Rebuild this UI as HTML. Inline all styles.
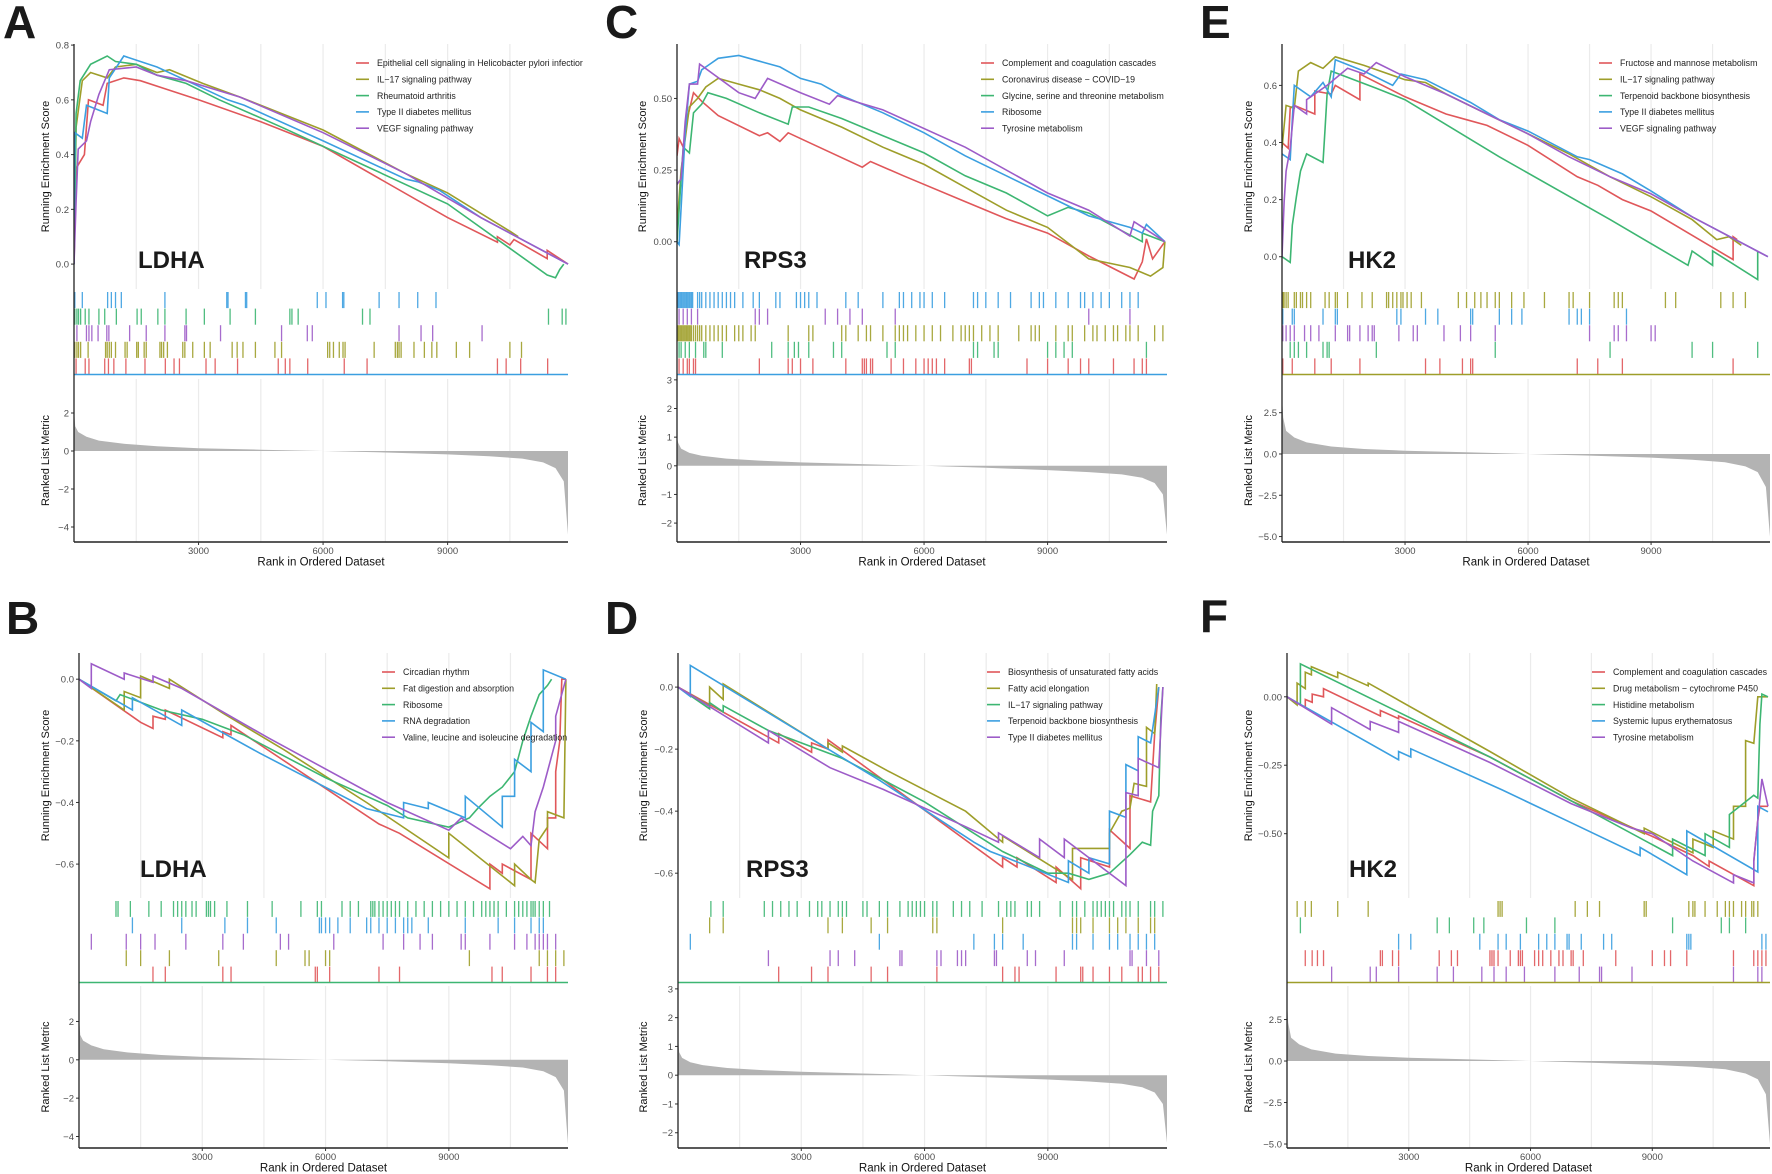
<!DOCTYPE html>
<html><head><meta charset="utf-8"><style>
html,body{margin:0;padding:0;background:#fff;}
svg{display:block;font-family:"Liberation Sans",Arial,sans-serif;}
</style></head><body>
<svg id="fig" width="1772" height="1174" viewBox="0 0 1772 1174" xmlns="http://www.w3.org/2000/svg"></svg>
<script>
// ===== DATA (ranks in thousands, values = running enrichment score) =====
// Panel A (LDHA, positive)
const A_red=[[0,0],[0.05,0.35],[0.25,0.40],[0.35,0.6],[0.7,0.58],[0.8,0.66],[1.2,0.68],[1.6,0.67],[2.2,0.64],[3.0,0.60],[4.5,0.52],[6,0.43],[9,0.17],[10.2,0.08],[10.2,0.1],[10.5,0.07],[10.6,0.09],[11.4,0.02],[11.4,0.05],[11.9,0]];
const A_olive=[[0,0],[0.05,0.5],[0.2,0.67],[0.4,0.70],[0.8,0.68],[1,0.72],[1.5,0.73],[2,0.7],[2.3,0.71],[3.1,0.66],[4,0.61],[6,0.49],[8,0.33],[9,0.26],[10.5,0.12],[10.7,0.1]];
const A_green=[[0,0],[0.05,0.55],[0.15,0.67],[0.4,0.73],[0.8,0.76],[1.0,0.74],[1.5,0.73],[2.0,0.69],[2.7,0.66],[3.5,0.6],[5,0.5],[7,0.36],[9,0.22],[11.4,-0.04],[11.6,-0.05],[11.7,-0.02],[11.8,0.0]];
const A_blue=[[0,0],[0.02,0.48],[0.2,0.46],[0.3,0.58],[0.8,0.55],[0.85,0.68],[1.2,0.76],[2,0.72],[3,0.65],[3.7,0.6],[4.1,0.58],[6,0.45],[8,0.31],[8.3,0.3],[8.8,0.27],[9.8,0.17],[11.9,0.0]];
const A_purple=[[0,0],[0.05,0.23],[0.1,0.42],[0.3,0.45],[0.4,0.52],[0.6,0.62],[0.85,0.71],[1.5,0.72],[2,0.69],[2.7,0.67],[4,0.61],[6,0.48],[8,0.33],[9.8,0.17],[11.9,0.0]];
const A_rug_blue=[0.02,0.2,0.81,0.9,1.0,1.14,2.19,3.68,3.71,4.13,4.16,5.86,6.07,6.47,6.5,7.35,7.83,8.28,8.72];
const A_rug_green=[0.02,0.07,0.11,0.16,0.27,0.36,0.6,0.74,1.02,1.52,1.62,2.02,2.19,2.7,3.14,3.76,4.37,5.2,5.25,5.4,6.95,7.13,11.43,11.76,11.85];
const A_rug_purple=[0.07,0.3,0.36,0.43,0.58,0.79,0.84,1.34,1.74,2.19,2.67,2.71,3.53,5.0,5.62,5.74,7.83,8.36,8.64,9.83];
const A_rug_olive=[0.02,0.07,0.11,0.16,0.34,0.76,0.8,0.85,0.9,1.0,1.23,1.28,1.51,1.55,1.69,1.74,2.07,2.11,2.16,2.25,2.62,2.67,2.86,3.14,3.28,3.81,3.93,4.07,4.37,4.84,5.0,6.11,6.16,6.25,6.39,6.48,6.53,7.23,7.74,7.79,7.83,7.88,8.19,8.44,8.62,8.74,9.21,9.53,10.5,10.78];
const A_rug_red=[0.05,0.27,0.36,0.74,0.83,0.96,1.25,1.71,2.2,2.41,2.54,3.18,3.4,3.94,4.92,5.09,5.2,5.63,6.51,7.06,10.2,10.41,10.76,11.41];
const A_metric=[2.2,1.3,1.0,0.75,0.55,0.38,0.25,0.15,0.07,0,-0.08,-0.18,-0.28,-0.4,-0.6,-0.9,-1.6,-4.4];

// Panel C (RPS3, positive)
const C_red=[[0,0.3],[0.05,0.36],[0.15,0.33],[0.25,0.43],[0.4,0.52],[0.6,0.49],[1,0.44],[2,0.37],[2.2,0.38],[2.5,0.35],[2.7,0.38],[3.3,0.34],[4.5,0.26],[4.7,0.28],[5.5,0.23],[7,0.14],[8,0.08],[9,0.03],[10,-0.05],[11.1,-0.13],[11.3,-0.07],[11.4,0.01],[11.55,-0.06],[11.85,0.0]];
const C_olive=[[0,0.05],[0.1,0.25],[0.3,0.47],[0.5,0.5],[0.7,0.54],[1,0.57],[1.5,0.55],[2,0.53],[2.5,0.5],[3,0.46],[4,0.4],[5,0.33],[6,0.27],[7,0.19],[8,0.11],[9,0.05],[10,-0.06],[11,-0.09],[11.5,-0.12],[11.8,-0.09],[11.85,0]];
const C_green=[[0,0.0],[0.15,0.33],[0.3,0.31],[0.4,0.45],[0.6,0.48],[0.75,0.52],[1.2,0.5],[2,0.45],[2.7,0.41],[2.8,0.47],[3.2,0.47],[4,0.43],[5,0.37],[6,0.31],[7,0.23],[8,0.17],[9,0.09],[9.5,0.12],[10,0.1],[11.3,0.0],[11.3,0.03],[11.85,0.0]];
const C_blue=[[0,0.0],[0.05,-0.01],[0.2,0.38],[0.3,0.55],[0.5,0.56],[0.6,0.6],[0.8,0.62],[1,0.64],[1.5,0.65],[2,0.63],[2.5,0.61],[3,0.57],[3.5,0.55],[4,0.51],[5,0.45],[6,0.38],[7,0.30],[8,0.23],[9,0.16],[10,0.09],[11,0.05],[11.3,0.03],[11.4,0.06],[11.85,0.0]];
const C_purple=[[0,0.2],[0.1,0.22],[0.2,0.42],[0.3,0.55],[0.5,0.55],[0.55,0.62],[1.5,0.52],[1.9,0.5],[2.2,0.57],[3,0.52],[3.7,0.48],[3.9,0.51],[4.3,0.49],[5,0.46],[7,0.33],[9,0.17],[10,0.11],[11,0.02],[11.1,0.07],[11.85,0.0]];
const C_rug_blue=[0.02,0.05,0.08,0.11,0.14,0.17,0.2,0.23,0.26,0.29,0.32,0.35,0.38,0.5,0.55,0.6,0.7,0.8,0.9,1.0,1.1,1.2,1.3,1.4,1.6,1.85,2.0,2.4,2.5,2.9,3.0,3.1,3.2,3.4,4.1,4.4,5.0,5.4,5.5,5.7,5.9,6.0,6.2,6.5,7.2,7.3,7.5,7.8,8.1,8.6,8.8,8.9,9.2,9.5,9.8,9.9,10.1,10.3,10.5,10.8,11.0,11.2];
const C_rug_purple=[0.05,0.15,0.25,0.35,0.5,1.9,2.0,2.2,3.6,3.9,4.2,4.5,5.3,10.0,11.0];
const C_rug_olive=[0.02,0.05,0.08,0.11,0.14,0.17,0.2,0.23,0.26,0.29,0.32,0.35,0.4,0.45,0.5,0.55,0.6,0.7,0.8,0.9,1.0,1.1,1.2,1.4,1.5,1.6,1.8,1.9,2.7,3.2,3.3,4.0,4.1,4.4,4.6,4.7,5.0,5.3,5.4,5.5,5.6,5.8,6.0,6.2,6.4,6.7,6.9,7.0,7.1,7.2,7.4,7.6,7.8,8.3,8.6,8.7,8.8,9.2,9.5,9.6,9.9,10.1,10.2,10.4,10.6,10.7,10.9,11.0,11.2,11.6,11.8];
const C_rug_green=[0.05,0.1,0.2,0.3,0.45,0.65,0.7,1.1,2.3,2.7,2.85,2.95,3.2,3.8,4.0,5.1,5.3,7.2,7.3,7.7,7.8,9.0,9.2,9.4,9.6,11.4];
const C_rug_red=[0.05,0.15,0.25,0.3,0.4,0.45,2.0,2.7,2.8,3.0,3.3,4.1,4.5,4.55,4.6,4.7,4.75,5.2,5.5,5.8,6.0,6.1,6.2,6.3,6.5,7.1,7.15,8.5,9.0,9.5,9.8,10.0,10.6,11.1,11.3,11.4];
const C_metric=[1.0,0.8,0.6,0.45,0.35,0.25,0.18,0.12,0.06,0,-0.07,-0.15,-0.22,-0.3,-0.42,-0.6,-1.0,-2.4];

// Panel E (HK2, positive)
const E_red=[[0,0.4],[0.15,0.38],[0.2,0.52],[0.3,0.53],[0.8,0.5],[0.8,0.58],[1.2,0.57],[1.3,0.6],[1.9,0.55],[1.9,0.64],[3,0.56],[4,0.5],[4.5,0.48],[5,0.46],[6,0.39],[7.2,0.28],[7.7,0.25],[8.3,0.2],[9,0.16],[11,-0.01],[11,0.07],[11.1,0.06]];
const E_olive=[[0,0.38],[0.1,0.53],[0.3,0.52],[0.4,0.65],[0.7,0.68],[1,0.66],[1.3,0.7],[2,0.67],[3,0.62],[3.5,0.61],[4,0.57],[5,0.5],[6,0.43],[7,0.36],[8,0.28],[9,0.21],[10,0.13],[10.6,0.06],[10.9,0.07],[11.2,0.04]];
const E_green=[[0,0],[0.2,-0.02],[0.25,0.11],[0.35,0.21],[0.45,0.3],[0.6,0.36],[1.0,0.33],[1.05,0.45],[1.1,0.57],[1.2,0.65],[2.3,0.59],[3,0.55],[5.3,0.35],[8,0.13],[9.9,-0.03],[10,0.02],[10.5,-0.03],[10.5,0.02],[11.6,-0.08],[11.6,0.02]];
const E_blue=[[0,0.36],[0.2,0.34],[0.25,0.48],[0.3,0.6],[0.7,0.56],[1.0,0.61],[1.2,0.56],[1.3,0.69],[2,0.65],[2.7,0.6],[2.9,0.64],[3.5,0.62],[4.6,0.54],[5.3,0.48],[6,0.44],[7.2,0.35],[7.5,0.34],[8.3,0.29],[9,0.23],[10,0.14],[11.85,0.0]];
const E_purple=[[0,0.0],[0.05,0.19],[0.1,0.3],[0.2,0.38],[0.3,0.53],[0.6,0.5],[0.6,0.55],[1.1,0.6],[1.6,0.66],[2,0.64],[2.3,0.68],[3,0.63],[4,0.57],[5,0.5],[6,0.43],[7,0.35],[8,0.28],[9,0.22],[10,0.14],[11.85,0.0]];
const E_rug_olive=[0.02,0.05,0.1,0.15,0.3,0.35,0.45,0.5,0.6,0.7,1.05,1.15,1.3,1.35,1.6,1.95,2.2,2.55,2.6,2.7,2.8,2.9,2.95,3.05,3.15,3.4,4.3,4.5,4.7,4.85,5.0,5.2,5.3,5.6,5.9,6.4,7.0,7.1,7.5,8.1,8.2,8.3,9.35,9.6,10.7,11.0,11.3];
const E_rug_blue=[0.02,0.25,0.3,1.0,1.3,1.35,2.8,2.9,3.5,3.8,4.6,4.65,5.3,5.6,5.85,7.0,7.2,7.3,7.5,8.4];
const E_rug_purple=[0.02,0.1,0.2,0.3,0.55,0.7,0.9,1.3,1.6,1.65,1.9,2.1,2.2,2.25,2.85,3.2,3.3,3.95,4.35,4.6,5.2,7.5,8.1,8.2,8.4,9.0,9.1];
const E_rug_green=[0.2,0.3,0.4,0.6,1.0,1.1,1.15,2.3,5.2,8.0,10.0,10.5,11.6];
const E_rug_red=[0.02,0.25,0.8,1.2,1.9,3.5,3.85,4.4,4.6,4.65,7.2,7.7,8.3,11.0];
const E_metric=[3.5,2.2,1.4,1.0,0.7,0.45,0.3,0.2,0.1,0,-0.1,-0.22,-0.35,-0.5,-0.75,-1.1,-2.0,-5.0];

// Panel B (LDHA, negative)
const B_red=[[0,0],[1.5,-0.14],[1.8,-0.16],[1.8,-0.12],[2.1,-0.13],[2.1,-0.1],[3.5,-0.19],[3.5,-0.17],[3.7,-0.18],[3.7,-0.15],[7.3,-0.47],[7.8,-0.5],[10,-0.68],[10,-0.6],[10.3,-0.63],[10.3,-0.6],[11,-0.65],[11,-0.5],[11.4,-0.55],[11.4,-0.45],[11.6,-0.45],[11.6,-0.3],[11.7,-0.2],[11.75,0.0],[11.85,0.0]];
const B_olive=[[0,0],[1.1,-0.1],[1.1,-0.04],[1.5,-0.06],[1.5,0.01],[2.2,-0.03],[2.2,0.0],[3.5,-0.11],[5,-0.23],[7,-0.4],[9,-0.58],[9,-0.5],[10.6,-0.67],[10.6,-0.6],[11,-0.65],[11.1,-0.66],[11.2,-0.52],[11.4,-0.48],[11.4,-0.43],[11.8,-0.45],[11.85,0.0]];
const B_green=[[0,0],[0.9,-0.07],[1,-0.05],[2,-0.1],[3,-0.13],[4,-0.18],[6,-0.32],[7.5,-0.41],[8,-0.45],[9,-0.48],[9.5,-0.45],[9.7,-0.42],[10,-0.38],[10.3,-0.35],[10.6,-0.3],[10.8,-0.2],[11,-0.12],[11.2,-0.05],[11.4,-0.02],[11.5,0.0]];
const B_blue=[[0,0],[1.3,-0.1],[1.3,-0.06],[2.5,-0.15],[2.5,-0.1],[4.4,-0.24],[7,-0.42],[7.9,-0.45],[7.9,-0.4],[8.5,-0.42],[8.5,-0.4],[9.4,-0.45],[9.4,-0.38],[10.3,-0.48],[10.3,-0.38],[10.6,-0.38],[10.6,-0.26],[11.0,-0.3],[11.0,-0.14],[11.3,-0.17],[11.3,0.03],[11.85,0.0]];
const B_purple=[[0,0],[0.3,-0.03],[0.3,0.05],[1.1,0.0],[1.1,0.02],[1.8,-0.01],[1.8,0.01],[2.5,-0.03],[4.6,-0.19],[7.5,-0.4],[9,-0.49],[9.3,-0.45],[10.5,-0.55],[10.8,-0.51],[11.0,-0.54],[11.1,-0.43],[11.3,-0.35],[11.6,-0.2],[11.6,-0.12],[11.85,0.0]];
const B_rug_green=[0.9,0.95,1.25,1.7,2.0,2.3,2.4,2.5,2.6,2.75,2.85,3.1,3.15,3.2,3.3,3.6,4.1,4.7,5.4,5.8,5.9,6.4,6.6,6.8,7.1,7.15,7.2,7.3,7.4,7.5,7.6,7.7,7.8,8.0,8.2,8.4,8.6,8.8,9.0,9.2,9.4,9.6,9.8,9.9,10.0,10.1,10.2,10.4,10.6,10.7,10.8,10.9,11.0,11.05,11.1,11.2,11.3,11.45];
const B_rug_blue=[1.3,2.5,3.55,4.1,4.8,5.85,5.9,6.0,6.1,6.3,6.6,7.0,7.1,7.3,7.5,7.7,7.9,8.0,8.1,8.5,9.4,10.2,10.6,11.0,11.2,11.3];
const B_rug_purple=[0.3,1.15,1.5,1.85,2.6,3.5,4.0,4.9,5.1,6.2,7.4,7.9,8.3,8.6,9.3,9.4,10.0,10.6,10.9,11.1,11.2,11.3,11.4,11.6];
const B_rug_olive=[1.15,1.5,2.2,3.4,4.8,5.5,5.6,6.0,6.1,9.5,11.2,11.4,11.6,11.8];
const B_rug_red=[1.8,2.1,3.5,3.7,5.75,5.8,6.1,7.3,7.8,10.05,10.3,11.0,11.4,11.6];
const B_metric=[2.3,1.3,1.0,0.75,0.55,0.38,0.25,0.15,0.07,0,-0.08,-0.18,-0.28,-0.4,-0.6,-0.9,-1.6,-4.4];

// Panel D (RPS3, negative)
const D_red=[[0,0],[2.45,-0.18],[2.45,-0.15],[3.25,-0.21],[3.25,-0.18],[3.65,-0.2],[3.65,-0.17],[7.9,-0.58],[7.9,-0.55],[8.25,-0.58],[8.25,-0.55],[9.2,-0.63],[9.2,-0.58],[9.8,-0.65],[9.8,-0.55],[10.5,-0.58],[10.5,-0.46],[11.0,-0.52],[11.0,-0.35],[11.5,-0.37],[11.6,-0.15],[11.7,0.0]];
const D_olive=[[0,0],[0.77,-0.06],[0.77,0.0],[1.1,-0.04],[1.1,0.01],[3.65,-0.2],[3.65,-0.18],[4.0,-0.21],[4.0,-0.19],[5.1,-0.27],[7,-0.4],[7.9,-0.5],[7.9,-0.48],[9.6,-0.62],[9.6,-0.52],[10.5,-0.52],[10.5,-0.47],[10.8,-0.4],[11.0,-0.39],[11.1,-0.31],[11.4,-0.32],[11.4,-0.13],[11.6,-0.15],[11.65,0.01]];
const D_green=[[0,0],[0.77,-0.07],[0.77,-0.05],[1.1,-0.08],[1.1,-0.06],[2.2,-0.14],[4,-0.23],[6,-0.37],[7.9,-0.53],[9,-0.6],[9.5,-0.6],[10,-0.62],[10.5,-0.6],[11,-0.54],[11.3,-0.5],[11.5,-0.51],[11.55,-0.4],[11.7,-0.35],[11.75,-0.1],[11.8,0.0]];
const D_blue=[[0,0],[0.3,-0.03],[0.3,0.07],[4.9,-0.3],[7.2,-0.5],[7.6,-0.53],[8.0,-0.55],[9.5,-0.63],[9.5,-0.56],[10,-0.6],[10,-0.55],[10.5,-0.57],[10.5,-0.4],[10.9,-0.42],[10.9,-0.25],[11.2,-0.27],[11.2,-0.16],[11.5,-0.18],[11.7,0.0]];
const D_purple=[[0,0],[2.2,-0.18],[2.2,-0.14],[3.7,-0.26],[5.0,-0.33],[7,-0.45],[7.8,-0.5],[7.8,-0.47],[8.8,-0.55],[8.8,-0.49],[9.4,-0.55],[9.4,-0.49],[10.9,-0.64],[10.9,-0.34],[11.2,-0.35],[11.2,-0.23],[11.7,-0.26],[11.8,0.0]];
const D_rug_green=[0.8,1.1,2.1,2.3,2.5,2.7,2.9,3.2,3.4,3.5,3.7,3.9,4.0,4.1,4.5,4.6,4.9,5.1,5.4,5.6,5.7,5.8,5.9,6.0,6.2,6.3,6.7,6.9,7.1,7.4,7.8,8.0,8.1,8.2,8.5,8.6,8.8,9.3,9.6,9.7,9.9,10.1,10.2,10.3,10.4,10.5,10.6,10.8,10.9,11.0,11.2,11.5,11.6,11.8];
const D_rug_olive=[0.77,1.1,3.65,4.0,4.7,5.1,6.2,6.3,7.9,9.6,9.7,9.8,10.1,10.5,10.7,10.9,11.2,11.5,11.6];
const D_rug_blue=[0.3,4.9,7.2,7.7,7.9,8.4,9.6,9.7,10.1,10.5,10.7,11.0,11.2,11.4,11.6];
const D_rug_purple=[2.2,3.7,3.9,4.3,5.4,5.45,6.3,6.4,6.8,6.9,7.0,7.7,7.75,8.5,8.7,9.4,11.0,11.05,11.4,11.7];
const D_rug_red=[2.45,3.25,3.65,4.7,5.1,6.3,7.9,8.2,8.3,9.2,9.8,9.85,10.1,10.5,10.8,11.2,11.3,11.5,11.7];
const D_metric=[1.3,0.8,0.6,0.45,0.35,0.25,0.18,0.12,0.06,0,-0.07,-0.15,-0.22,-0.3,-0.42,-0.6,-1.0,-2.35];

// Panel F (HK2, negative)
const F_red=[[0,0],[0.45,-0.04],[0.45,-0.01],[0.62,-0.02],[0.62,0.01],[0.9,0.0],[0.9,0.03],[2.3,-0.07],[2.3,-0.05],[2.75,-0.08],[2.75,-0.07],[5,-0.22],[7,-0.38],[9,-0.51],[10,-0.58],[10.4,-0.62],[10.4,-0.6],[11.5,-0.69],[11.5,-0.6],[11.6,-0.45],[11.65,-0.4],[11.85,-0.4]];
const F_olive=[[0,0],[0.25,-0.03],[0.25,0.05],[0.45,0.03],[0.45,0.09],[0.6,0.08],[0.6,0.11],[1.25,0.07],[1.25,0.09],[2.0,0.04],[2.0,0.05],[5,-0.2],[7,-0.37],[8.8,-0.5],[8.8,-0.48],[10,-0.57],[10,-0.52],[10.5,-0.55],[10.5,-0.49],[11,-0.52],[11,-0.4],[11.3,-0.4],[11.3,-0.16],[11.5,-0.17],[11.6,0.0],[11.85,0.0]];
const F_green=[[0,0],[0.33,-0.03],[0.33,0.12],[5,-0.22],[7,-0.38],[9.5,-0.58],[9.5,-0.52],[10.3,-0.58],[10.3,-0.5],[10.9,-0.55],[10.9,-0.43],[11.5,-0.36],[11.6,-0.37],[11.65,-0.1],[11.7,0.01],[11.85,0.0]];
const F_blue=[[0,0],[2.75,-0.23],[2.75,-0.2],[3.05,-0.22],[3.05,-0.19],[5.3,-0.34],[7,-0.46],[8.7,-0.58],[8.7,-0.55],[9.85,-0.65],[9.85,-0.49],[11.6,-0.64],[11.6,-0.4],[11.85,-0.42]];
const F_purple=[[0,0],[1.1,-0.1],[1.1,-0.04],[2.05,-0.12],[2.05,-0.09],[2.75,-0.13],[2.75,-0.09],[5,-0.24],[7,-0.39],[8.5,-0.48],[9,-0.5],[10,-0.6],[11,-0.68],[11,-0.65],[11.5,-0.68],[11.5,-0.6],[11.7,-0.3],[11.85,-0.4]];
const F_rug_olive=[0.25,0.45,0.6,1.25,2.0,5.2,5.25,5.3,7.1,7.4,7.7,8.8,8.85,9.9,10.0,10.05,10.3,10.6,10.8,10.9,11.0,11.2,11.3,11.45,11.5,11.6];
const F_rug_green=[0.33,3.7,4.0,4.6,4.85,5.9,6.6,9.5,10.7,10.9,11.3];
const F_rug_blue=[2.75,3.05,4.75,5.2,5.4,5.75,6.2,6.4,6.6,6.9,6.95,7.25,7.8,8.0,9.85,9.9,9.95,11.7,11.8];
const F_rug_red=[0.45,0.62,0.75,0.9,2.3,2.35,2.6,2.75,3.75,4.05,4.2,5.0,5.05,5.1,5.2,5.5,5.7,5.75,5.8,6.1,6.2,6.3,6.5,6.7,6.8,7.0,7.05,7.3,8.1,9.0,9.3,9.45,9.85,11.0,11.5,11.6,11.7,11.8];
const F_rug_purple=[1.1,2.05,2.2,2.75,3.7,4.1,4.8,5.1,5.4,5.85,6.6,7.2,7.7,7.75,8.5,11.0,11.6,11.7];
const F_metric=[3.6,2.3,1.4,1.0,0.7,0.45,0.3,0.2,0.1,0,-0.1,-0.22,-0.35,-0.5,-0.75,-1.1,-2.0,-5.0];

// shared rank knots for ranked list metric (thousands)
const metricRanks=[0,0.03,0.1,0.3,0.6,1.2,2,3,4.5,6,7.5,9,10,10.8,11.3,11.6,11.8,11.9];
const xTicks=[3000,6000,9000];
const xTickLabels=["3000","6000","9000"];

// ===== RENDERING =====
const COL={red:"#e0575a",olive:"#9e9e2a",green:"#3db672",blue:"#3b9fe0",purple:"#9d5cc8"};
const NGENES=11900;
const svg=document.getElementById('fig');
const NS="http://www.w3.org/2000/svg";
function mk(tag,attrs,parent){const e=document.createElementNS(NS,tag);for(const k in attrs)e.setAttribute(k,attrs[k]);(parent||svg).appendChild(e);return e;}

const TOP={esTop:44,esBot:289,rugTop:290,rugBot:376,mTop:379,mBot:542};
const BOT={esTop:653,esBot:898,rugTop:899,rugBot:984,mTop:986,mBot:1148};

const panels=[
 {id:"A",gene:"LDHA",row:TOP,x0:74,x1:568,tOff:25,letterX:3,letterY:38,geneX:138,legX:356,esMin:-0.091,esMax:0.804,esTicks:[0,0.2,0.4,0.6,0.8],esLab:["0.0","0.2","0.4","0.6","0.8"],
  mMin:-4.79,mMax:3.79,mTicks:[-4,-2,0,2],mLab:["\u22124","\u22122","0","2"],metric:A_metric,base:"blue",
  series:[["red","Epithelial cell signaling in Helicobacter pylori infectior",A_red],["olive","IL\u221217 signaling pathway",A_olive],["green","Rheumatoid arthritis",A_green],["blue","Type II diabetes mellitus",A_blue],["purple","VEGF signaling pathway",A_purple]],
  rug:[["blue",A_rug_blue],["green",A_rug_green],["purple",A_rug_purple],["olive",A_rug_olive],["red",A_rug_red]]},
 {id:"C",gene:"RPS3",row:TOP,x0:677,x1:1167,tOff:31,letterX:605,letterY:38,geneX:744,legX:981,esMin:-0.165,esMax:0.69,esTicks:[0,0.25,0.5],esLab:["0.00","0.25","0.50"],
  mMin:-2.66,mMax:3.03,mTicks:[-2,-1,0,1,2,3],mLab:["\u22122","\u22121","0","1","2","3"],metric:C_metric,base:"blue",
  series:[["red","Complement and coagulation cascades",C_red],["olive","Coronavirus disease \u2212 COVID\u221219",C_olive],["green","Glycine, serine and threonine metabolism",C_green],["blue","Ribosome",C_blue],["purple","Tyrosine metabolism",C_purple]],
  rug:[["blue",C_rug_blue],["purple",C_rug_purple],["olive",C_rug_olive],["green",C_rug_green],["red",C_rug_red]]},
 {id:"E",gene:"HK2",row:TOP,x0:1282,x1:1770,tOff:30,letterX:1200,letterY:38,geneX:1348,legX:1599,esMin:-0.113,esMax:0.745,esTicks:[0,0.2,0.4,0.6],esLab:["0.0","0.2","0.4","0.6"],
  mMin:-5.33,mMax:4.54,mTicks:[-5,-2.5,0,2.5],mLab:["\u22125.0","\u22122.5","0.0","2.5"],metric:E_metric,base:"olive",
  series:[["red","Fructose and mannose metabolism",E_red],["olive","IL\u221217 signaling pathway",E_olive],["green","Terpenoid backbone biosynthesis",E_green],["blue","Type II diabetes mellitus",E_blue],["purple","VEGF signaling pathway",E_purple]],
  rug:[["olive",E_rug_olive],["blue",E_rug_blue],["purple",E_rug_purple],["green",E_rug_green],["red",E_rug_red]]},
 {id:"B",gene:"LDHA",row:BOT,x0:79,x1:568,tOff:30,letterX:6,letterY:634,geneX:140,legX:382,esMin:-0.71,esMax:0.085,esTicks:[-0.6,-0.4,-0.2,0],esLab:["\u22120.6","\u22120.4","\u22120.2","0.0"],
  mMin:-4.6,mMax:3.85,mTicks:[-4,-2,0,2],mLab:["\u22124","\u22122","0","2"],metric:B_metric,base:"green",
  series:[["red","Circadian rhythm",B_red],["olive","Fat digestion and absorption",B_olive],["green","Ribosome",B_green],["blue","RNA degradation",B_blue],["purple","Valine, leucine and isoleucine degradation",B_purple]],
  rug:[["green",B_rug_green],["blue",B_rug_blue],["purple",B_rug_purple],["olive",B_rug_olive],["red",B_rug_red]]},
 {id:"D",gene:"RPS3",row:BOT,x0:678,x1:1167,tOff:31,letterX:605,letterY:634,geneX:746,legX:987,esMin:-0.68,esMax:0.11,esTicks:[-0.6,-0.4,-0.2,0],esLab:["\u22120.6","\u22120.4","\u22120.2","0.0"],
  mMin:-2.53,mMax:3.1,mTicks:[-2,-1,0,1,2,3],mLab:["\u22122","\u22121","0","1","2","3"],metric:D_metric,base:"green",
  series:[["red","Biosynthesis of unsaturated fatty acids",D_red],["olive","Fatty acid elongation",D_olive],["green","IL\u221217 signaling pathway",D_green],["blue","Terpenoid backbone biosynthesis",D_blue],["purple","Type II diabetes mellitus",D_purple]],
  rug:[["green",D_rug_green],["olive",D_rug_olive],["blue",D_rug_blue],["purple",D_rug_purple],["red",D_rug_red]]},
 {id:"F",gene:"HK2",row:BOT,x0:1287,x1:1770,tOff:35,letterX:1200,letterY:632,geneX:1349,legX:1592,esMin:-0.735,esMax:0.16,esTicks:[-0.5,-0.25,0],esLab:["\u22120.50","\u22120.25","0.00"],
  mMin:-5.24,mMax:4.52,mTicks:[-5,-2.5,0,2.5],mLab:["\u22125.0","\u22122.5","0.0","2.5"],metric:F_metric,base:"olive",
  series:[["red","Complement and coagulation cascades",F_red],["olive","Drug metabolism \u2212 cytochrome P450",F_olive],["green","Histidine metabolism",F_green],["blue","Systemic lupus erythematosus",F_blue],["purple","Tyrosine metabolism",F_purple]],
  rug:[["olive",F_rug_olive],["green",F_rug_green],["blue",F_rug_blue],["red",F_rug_red],["purple",F_rug_purple]]}
];

panels.forEach(p=>{
  const R=p.row;
  const g=mk('g',{});
  
  
  const X=r=>p.x0+(r/NGENES)*(p.x1-p.x0);
  const Yes=v=>R.esTop+(p.esMax-v)/(p.esMax-p.esMin)*(R.esBot-R.esTop);
  const Ym=v=>R.mTop+(p.mMax-v)/(p.mMax-p.mMin)*(R.mBot-R.mTop);

  const L=mk('text',{x:p.letterX,y:p.letterY,'font-size':46,'font-weight':'bold',fill:'#1a1a1a'},g);
  
  
  L.textContent=p.id;

  for(let i=1;i<=7;i++){
    const gx=X(i*1500);
    const l1=mk('line',{x1:gx,x2:gx,y1:R.esTop,y2:R.esBot,stroke:'#ebebeb','stroke-width':1.2},g);
    
    
    const l2=mk('line',{x1:gx,x2:gx,y1:R.mTop,y2:R.mBot,stroke:'#ebebeb','stroke-width':1.2},g);
    
    
  }

  p.esTicks.forEach((t,i)=>{
    const y=Yes(t);
    const tk=mk('line',{x1:p.x0-3,x2:p.x0,y1:y,y2:y,stroke:'#333','stroke-width':1},g);
    
    
    const tl=mk('text',{x:p.x0-5,y:y+3.5,'font-size':9.5,fill:'#4d4d4d','text-anchor':'end'},g);
    
    
    tl.textContent=p.esLab[i];
  });
  const yt=mk('text',{x:0,y:0,'font-size':11,fill:'#111','text-anchor':'middle',transform:`translate(${p.x0-p.tOff},${(R.esTop+R.esBot)/2}) rotate(-90)`},g);
  
  
  yt.textContent='Running Enrichment Score';

  const cid='clip'+p.id;
  const cp=mk('clipPath',{id:cid},g);
  mk('rect',{x:p.x0,y:R.esTop,width:p.x1-p.x0+2,height:R.esBot-R.esTop},cp);

  p.series.forEach(s=>{
    const pts=s[2].map(d=>X(d[0]*1000).toFixed(1)+','+Yes(d[1]).toFixed(1)).join(' ');
    const pl=mk('polyline',{points:pts,fill:'none',stroke:COL[s[0]],'stroke-width':1.6,'stroke-linejoin':'miter','clip-path':`url(#${cid})`},g);
    
    
  });

  p.series.forEach((s,i)=>{
    const ly=R.esTop+19+i*16.3;
    const ll=mk('line',{x1:p.legX,x2:p.legX+13,y1:ly,y2:ly,stroke:COL[s[0]],'stroke-width':1.6},g);
    
    
    const lt=mk('text',{x:p.legX+21,y:ly+3.2,'font-size':8.8,fill:'#222'},g);
    
    
    lt.textContent=s[1];
  });

  const gl=mk('text',{x:p.geneX,y:R.esBot-21,'font-size':24,'font-weight':'bold',fill:'#1a1a1a'},g);
  
  
  gl.textContent=p.gene;

  const rowH=(R.rugBot-R.rugTop-3)/5;
  p.rug.forEach((rs,i)=>{
    const y1=R.rugTop+2+i*rowH, y2=y1+rowH-0.5;
    rs[1].forEach(r=>{
      const x=X(r*1000);
      const t=mk('line',{x1:x,x2:x,y1:y1,y2:y2,stroke:COL[rs[0]],'stroke-width':1.3,'stroke-opacity':0.9},g);
      
      
    });
  });
  const bl=mk('line',{x1:p.x0,x2:p.x1,y1:R.rugBot-1.5,y2:R.rugBot-1.5,stroke:COL[p.base],'stroke-width':1.5},g);
  
  

  let path=`M${X(0)},${Ym(0)} `;
  p.metric.forEach((v,i)=>{path+=`L${X(metricRanks[i]*1000).toFixed(1)},${Ym(v).toFixed(1)} `;});
  path+=`L${X(NGENES)},${Ym(0)} Z`;
  const ar=mk('path',{d:path,fill:'#b3b3b3',stroke:'none'},g);
  
  
  p.mTicks.forEach((t,i)=>{
    const y=Ym(t);
    const tk=mk('line',{x1:p.x0-3,x2:p.x0,y1:y,y2:y,stroke:'#333','stroke-width':1},g);
    
    
    const tl=mk('text',{x:p.x0-5,y:y+3.5,'font-size':9.5,fill:'#4d4d4d','text-anchor':'end'},g);
    
    
    tl.textContent=p.mLab[i];
  });
  const mt=mk('text',{x:0,y:0,'font-size':11,fill:'#111','text-anchor':'middle',transform:`translate(${p.x0-p.tOff},${(R.mTop+R.mBot)/2}) rotate(-90)`},g);
  
  
  mt.textContent='Ranked List Metric';

  const ax=mk('line',{x1:p.x0,x2:p.x0,y1:R.esTop,y2:R.mBot,stroke:'#222','stroke-width':1.3},g);
  
  
  const bx=mk('line',{x1:p.x0,x2:p.x1,y1:R.mBot,y2:R.mBot,stroke:'#222','stroke-width':1.5},g);
  
  
  xTicks.forEach((t,i)=>{
    const x=X(t);
    const tk=mk('line',{x1:x,x2:x,y1:R.mBot,y2:R.mBot+3,stroke:'#333','stroke-width':1},g);
    
    
    const tl=mk('text',{x:x,y:R.mBot+12,'font-size':9.5,fill:'#4d4d4d','text-anchor':'middle'},g);
    
    
    tl.textContent=xTickLabels[i];
  });
  const xt=mk('text',{x:(p.x0+p.x1)/2,y:R.mBot+23.5,'font-size':11.5,fill:'#111','text-anchor':'middle'},g);
  
  
  xt.textContent='Rank in Ordered Dataset';
});
</script>
</body></html>
